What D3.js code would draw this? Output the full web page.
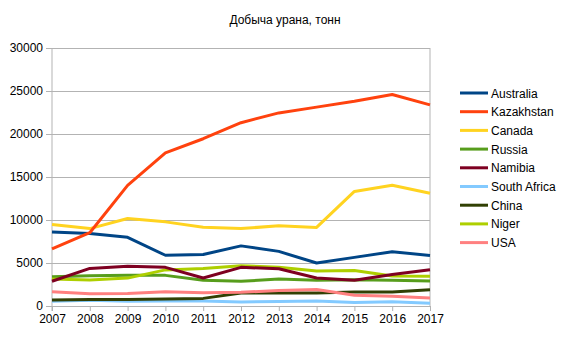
<!DOCTYPE html>
<html><head><meta charset="utf-8">
<script src="https://cdn.jsdelivr.net/npm/d3@7"></script>
<style>body{margin:0;background:#fff}svg{display:block}text{font-family:"Liberation Sans",Arial,sans-serif}</style>
</head><body>
<svg id="c" width="570" height="339"></svg>
<script>
const years = [2007,2008,2009,2010,2011,2012,2013,2014,2015,2016,2017];
const seriesNames = ["Australia","Kazakhstan","Canada","Russia","Namibia","South Africa","China","Niger","USA"];
const australia  = [8611,8430,7982,5900,5983,6991,6350,5001,5654,6315,5882];
const kazakhstan = [6637,8521,14020,17803,19451,21317,22451,23127,23800,24586,23391];
const canada     = [9476,9000,10173,9783,9145,8999,9331,9134,13325,14039,13116];
const russia     = [3413,3521,3564,3562,2993,2872,3135,2990,3055,3004,2917];
const namibia    = [2879,4366,4626,4496,3258,4495,4323,3255,2993,3654,4224];
const southAfrica= [539,655,563,583,582,465,531,573,393,490,308];
const china      = [712,769,750,827,885,1500,1500,1500,1616,1616,1885];
const niger      = [3153,3032,3243,4198,4351,4667,4518,4057,4116,3479,3449];
const usa        = [1654,1430,1453,1660,1537,1596,1792,1919,1256,1125,940];
const yTicks = [0,5000,10000,15000,20000,25000,30000];
const colors = ["#004586","#ff420e","#ffd320","#579d1c","#7e0021","#83caff","#314004","#aecf00","#ff8080"];
const allSeries = [australia,kazakhstan,canada,russia,namibia,southAfrica,china,niger,usa];
const title = "Добыча урана, тонн";

const svg = d3.select("#c");
const x = d3.scaleLinear().domain([2007,2017]).range([52,430]);
const y = d3.scaleLinear().domain([0,30000]).range([306,48]);

svg.append("text").attr("x",285).attr("y",24).attr("text-anchor","middle")
  .attr("font-size",12).attr("fill","#000").text(title);

// gridlines
const yAxis = d3.axisLeft(y).tickValues(yTicks).tickSize(-(430-52)-6).tickPadding(3).tickFormat(d=>d);
const gy = svg.append("g").attr("transform","translate(46,0)").call(yAxis);
gy.select(".domain").remove();
gy.selectAll(".tick line").attr("stroke","#b3b3b3").attr("stroke-width",1);
gy.selectAll(".tick text").attr("font-size",12).attr("fill","#000").attr("font-family","Liberation Sans, Arial, sans-serif");

// plot borders
svg.append("line").attr("x1",52).attr("x2",52).attr("y1",48).attr("y2",311).attr("stroke","#b3b3b3");
svg.append("line").attr("x1",430).attr("x2",430).attr("y1",48).attr("y2",306).attr("stroke","#b3b3b3");

const xAxis = d3.axisBottom(x).tickValues(years).tickFormat(d=>d).tickSize(5).tickPadding(3);
const gx = svg.append("g").attr("transform","translate(0,306)").call(xAxis);
gx.select(".domain").attr("stroke","#b3b3b3");
gx.selectAll(".tick line").attr("stroke","#b3b3b3");
gx.selectAll(".tick text").attr("font-size",12).attr("fill","#000").attr("font-family","Liberation Sans, Arial, sans-serif");

const line = d3.line().x((d,i)=>x(years[i])).y(d=>y(d));
const order = [5,6,8,3,7,4,0,2,1];
order.forEach(k=>{
  svg.append("path").datum(allSeries[k]).attr("d",line).attr("fill","none")
    .attr("stroke",colors[k]).attr("stroke-width",3).attr("stroke-linejoin","round");
});

// legend
const lg = svg.append("g");
seriesNames.forEach((n,i)=>{
  const yy = 93 + i*18.7;
  lg.append("line").attr("x1",460).attr("x2",488).attr("y1",yy).attr("y2",yy)
    .attr("stroke",colors[i]).attr("stroke-width",3);
  lg.append("text").attr("x",491).attr("y",yy+4.5).attr("font-size",12).attr("fill","#000").text(n);
});
</script>
</body></html>
